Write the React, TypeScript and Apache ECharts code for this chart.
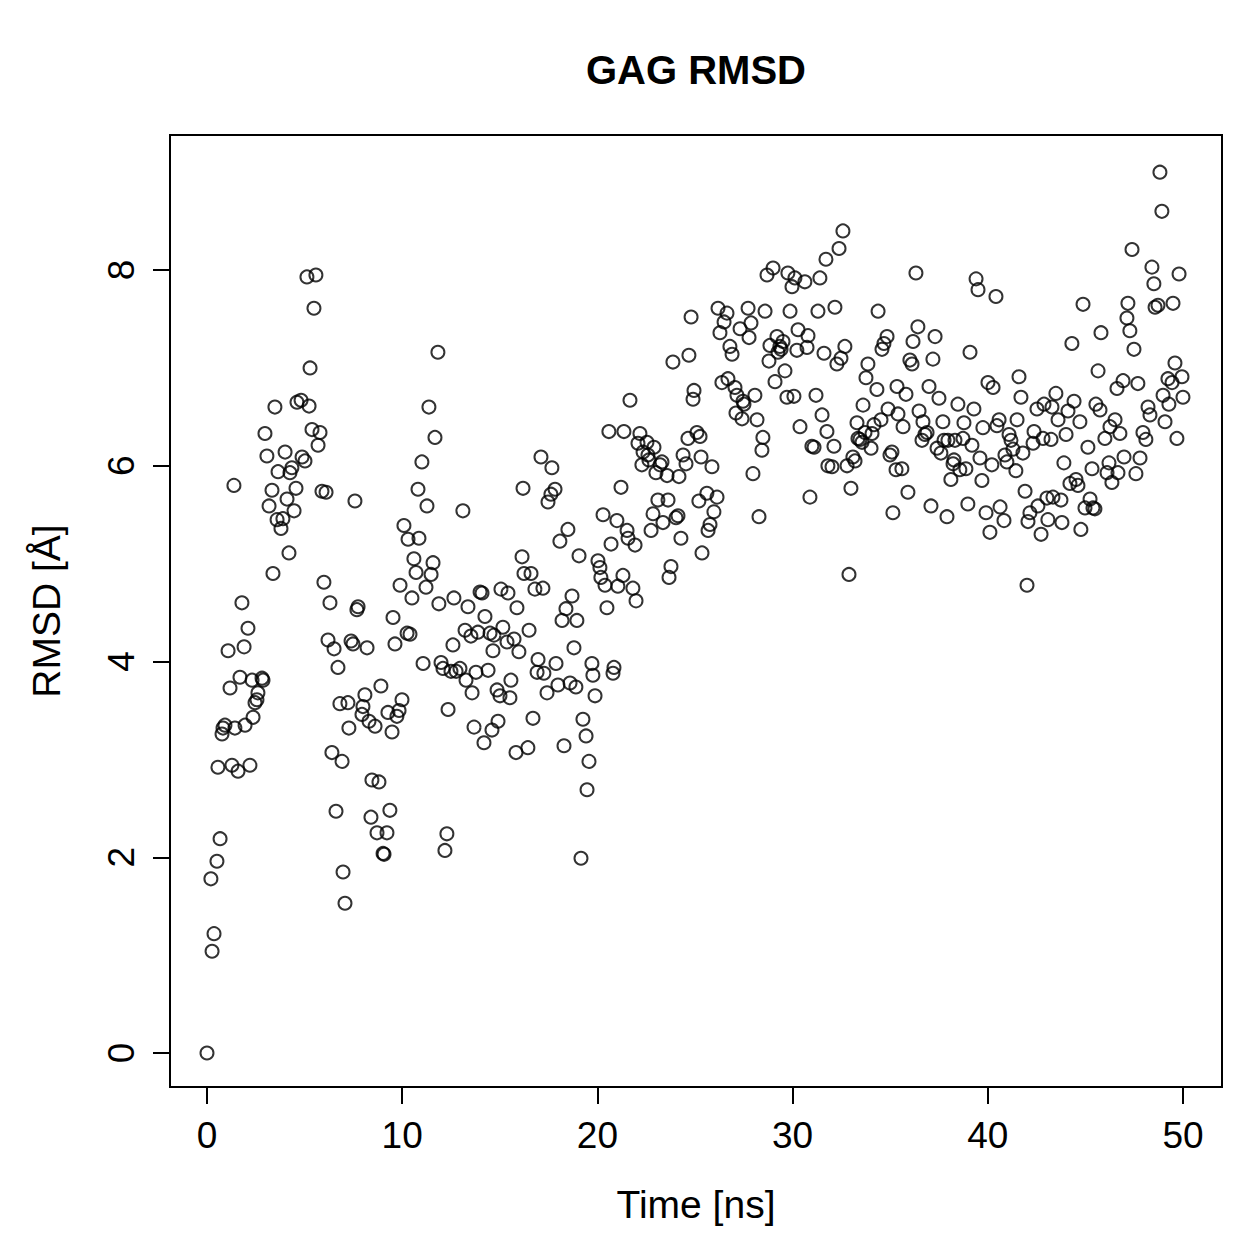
import { useEffect, useRef } from "react";
import * as echarts from "echarts";

// Simulation time (ns) and RMSD (Å) of the GAG ligand
const timeNs = [
  0.0, 0.2, 0.26, 0.36, 0.51, 0.56, 0.67, 0.77, 0.82, 0.92, 1.08, 1.18, 1.28, 1.38, 1.43, 1.59, 1.69, 1.79, 1.9, 1.95,
  2.1, 2.2, 2.31, 2.36, 2.46, 2.56, 2.61, 2.82, 2.87, 2.97, 3.07, 3.18, 3.33, 3.38, 3.48, 3.59, 3.64, 3.79, 3.89, 4.0,
  4.1, 4.2, 4.25, 4.35, 4.46, 4.56, 4.61, 4.82, 4.87, 5.02, 5.12, 5.23, 5.28, 5.38, 5.48, 5.58, 5.69, 5.79, 5.89, 5.99,
  6.1, 6.2, 6.3, 6.4, 6.51, 6.61, 6.71, 6.81, 6.92, 6.97, 7.07, 7.22, 7.27, 7.38, 7.48, 7.58, 7.68, 7.74, 7.94, 7.99,
  8.09, 8.2, 8.3, 8.4, 8.45, 8.61, 8.71, 8.81, 8.91, 9.02, 9.07, 9.22, 9.27, 9.37, 9.48, 9.53, 9.63, 9.73, 9.84, 9.89,
  9.99, 10.09, 10.25, 10.3, 10.4, 10.5, 10.6, 10.71, 10.81, 10.86, 11.01, 11.07, 11.22, 11.27, 11.37, 11.48, 11.58, 11.68, 11.83, 11.88,
  11.99, 12.09, 12.19, 12.29, 12.35, 12.5, 12.6, 12.65, 12.76, 12.96, 13.11, 13.22, 13.27, 13.37, 13.52, 13.58, 13.68, 13.78, 13.88, 13.99,
  14.09, 14.19, 14.24, 14.4, 14.5, 14.6, 14.65, 14.7, 14.86, 14.91, 15.01, 15.06, 15.16, 15.37, 15.42, 15.52, 15.57, 15.73, 15.83, 15.88,
  15.98, 16.14, 16.19, 16.24, 16.44, 16.5, 16.6, 16.7, 16.8, 16.91, 16.96, 17.11, 17.21, 17.26, 17.42, 17.47, 17.62, 17.67, 17.83, 17.88,
  17.98, 18.08, 18.19, 18.29, 18.39, 18.49, 18.6, 18.7, 18.8, 18.9, 18.95, 19.06, 19.16, 19.26, 19.42, 19.47, 19.57, 19.72, 19.77, 19.88,
  20.03, 20.13, 20.18, 20.29, 20.39, 20.49, 20.59, 20.7, 20.8, 20.85, 21.0, 21.05, 21.21, 21.31, 21.36, 21.52, 21.57, 21.67, 21.82, 21.93,
  21.98, 22.08, 22.18, 22.28, 22.34, 22.54, 22.59, 22.64, 22.75, 22.85, 22.9, 23.0, 23.1, 23.21, 23.31, 23.36, 23.57, 23.62, 23.67, 23.77,
  23.87, 24.03, 24.13, 24.18, 24.28, 24.39, 24.54, 24.64, 24.69, 24.8, 24.9, 24.95, 25.1, 25.2, 25.26, 25.31, 25.36, 25.61, 25.67, 25.77,
  25.87, 25.97, 26.13, 26.18, 26.28, 26.38, 26.49, 26.64, 26.69, 26.79, 26.9, 27.05, 27.1, 27.15, 27.31, 27.41, 27.46, 27.51, 27.72, 27.77,
  27.87, 27.97, 28.07, 28.18, 28.28, 28.43, 28.48, 28.59, 28.69, 28.79, 28.84, 29.0, 29.1, 29.2, 29.25, 29.35, 29.41, 29.51, 29.61, 29.71,
  29.76, 29.87, 29.97, 30.07, 30.12, 30.22, 30.28, 30.38, 30.63, 30.74, 30.79, 30.89, 30.99, 31.1, 31.2, 31.3, 31.4, 31.51, 31.61, 31.71,
  31.76, 31.81, 32.02, 32.12, 32.17, 32.27, 32.38, 32.48, 32.58, 32.68, 32.79, 32.89, 32.99, 33.09, 33.2, 33.3, 33.35, 33.45, 33.56, 33.61,
  33.71, 33.76, 33.86, 34.02, 34.07, 34.17, 34.32, 34.38, 34.53, 34.58, 34.68, 34.84, 34.89, 34.99, 35.09, 35.14, 35.3, 35.35, 35.4, 35.6,
  35.66, 35.81, 35.91, 36.01, 36.12, 36.17, 36.32, 36.42, 36.48, 36.63, 36.68, 36.78, 36.89, 36.99, 37.09, 37.19, 37.3, 37.4, 37.5, 37.6,
  37.7, 37.76, 37.91, 37.96, 38.11, 38.22, 38.27, 38.32, 38.47, 38.57, 38.73, 38.78, 38.88, 38.98, 39.09, 39.19, 39.29, 39.4, 39.5, 39.6,
  39.7, 39.75, 39.91, 40.01, 40.11, 40.21, 40.27, 40.42, 40.47, 40.58, 40.63, 40.83, 40.88, 40.98, 41.09, 41.19, 41.29, 41.44, 41.5, 41.6,
  41.7, 41.8, 41.91, 42.01, 42.06, 42.16, 42.32, 42.37, 42.52, 42.57, 42.73, 42.83, 42.88, 43.03, 43.08, 43.24, 43.29, 43.34, 43.49, 43.6,
  43.75, 43.8, 43.9, 44.01, 44.11, 44.21, 44.31, 44.42, 44.52, 44.62, 44.72, 44.77, 44.88, 44.98, 45.13, 45.24, 45.34, 45.39, 45.49, 45.54,
  45.65, 45.75, 45.8, 46.0, 46.11, 46.21, 46.26, 46.36, 46.52, 46.62, 46.67, 46.77, 46.93, 46.98, 47.13, 47.18, 47.28, 47.39, 47.49, 47.59,
  47.69, 47.8, 47.95, 48.1, 48.21, 48.31, 48.41, 48.51, 48.57, 48.72, 48.82, 48.92, 48.98, 49.08, 49.23, 49.28, 49.44, 49.49, 49.59, 49.69,
  49.8, 49.95, 50.0,
];

const rmsd = [
  0.0, 1.78, 1.04, 1.22, 1.96, 2.92, 2.19, 3.26, 3.32, 3.35, 4.11, 3.73, 2.94, 5.8, 3.32, 2.88, 3.84, 4.6, 4.15, 3.35,
  4.34, 2.94, 3.81, 3.43, 3.58, 3.61, 3.68, 3.83, 3.81, 6.33, 6.1, 5.59, 5.75, 4.9, 6.6, 5.45, 5.94, 5.36, 5.46, 6.14,
  5.66, 5.11, 5.93, 5.98, 5.54, 5.77, 6.65, 6.67, 6.09, 6.05, 7.93, 6.61, 7.0, 6.37, 7.61, 7.95, 6.21, 6.34, 5.74, 4.81,
  5.73, 4.22, 4.6, 3.07, 4.13, 2.47, 3.94, 3.57, 2.98, 1.85, 1.53, 3.58, 3.32, 4.21, 4.18, 5.64, 4.53, 4.56, 3.46, 3.54,
  3.66, 4.14, 3.39, 2.41, 2.79, 3.34, 2.25, 2.77, 3.75, 2.04, 2.03, 2.25, 3.48, 2.48, 3.28, 4.45, 4.18, 3.44, 3.5, 4.78,
  3.61, 5.39, 4.29, 5.25, 4.28, 4.65, 5.05, 4.91, 5.76, 5.26, 6.04, 3.98, 4.76, 5.59, 6.6, 4.89, 5.01, 6.29, 7.16, 4.59,
  3.99, 3.93, 2.07, 2.24, 3.51, 3.9, 4.17, 4.65, 3.9, 3.93, 5.54, 4.32, 3.81, 4.56, 4.26, 3.68, 3.33, 3.89, 4.3, 4.71,
  4.7, 3.17, 4.46, 3.91, 4.29, 3.3, 4.11, 4.27, 3.71, 3.39, 3.65, 4.74, 4.35, 4.2, 4.7, 3.63, 3.81, 4.23, 3.07, 4.55,
  4.1, 5.07, 5.77, 4.9, 3.12, 4.32, 4.9, 3.42, 4.74, 3.89, 4.02, 6.09, 4.75, 3.88, 3.68, 5.63, 5.71, 5.98, 5.76, 3.98,
  3.76, 5.23, 4.42, 3.14, 4.54, 5.35, 3.78, 4.67, 4.14, 3.74, 4.42, 5.08, 1.99, 3.41, 3.24, 2.69, 2.98, 3.98, 3.86, 3.65,
  5.03, 4.96, 4.86, 5.5, 4.78, 4.55, 6.35, 5.2, 3.88, 3.94, 5.44, 4.77, 5.78, 4.88, 6.35, 5.34, 5.26, 6.67, 4.75, 5.19,
  4.62, 6.23, 6.33, 6.01, 6.14, 6.24, 6.11, 6.06, 5.34, 5.51, 6.19, 5.93, 5.65, 6.01, 6.04, 5.42, 5.9, 5.65, 4.86, 4.97,
  7.06, 5.47, 5.49, 5.89, 5.26, 6.11, 6.02, 6.28, 7.13, 7.52, 6.68, 6.77, 6.34, 5.64, 6.3, 6.09, 5.11, 5.72, 5.34, 5.4,
  5.99, 5.53, 5.68, 7.61, 7.36, 6.85, 7.47, 7.56, 6.89, 7.22, 7.14, 6.8, 6.54, 6.72, 7.4, 6.48, 6.66, 6.63, 7.61, 7.31,
  7.46, 5.92, 6.72, 6.47, 5.48, 6.16, 6.29, 7.58, 7.95, 7.07, 7.23, 8.02, 6.86, 7.32, 7.16, 7.22, 7.19, 7.27, 6.97, 6.7,
  7.97, 7.58, 7.83, 6.71, 7.92, 7.18, 7.39, 6.4, 7.88, 7.21, 7.33, 5.68, 6.2, 6.19, 6.72, 7.58, 7.92, 6.52, 7.15, 8.11,
  6.35, 6.0, 5.99, 6.2, 7.62, 7.04, 8.22, 7.1, 8.4, 7.22, 6.0, 4.89, 5.77, 6.09, 6.05, 6.44, 6.28, 6.27, 6.24, 6.62,
  6.34, 6.9, 7.04, 6.18, 6.33, 6.42, 6.78, 7.58, 6.47, 7.19, 7.25, 7.32, 6.58, 6.11, 6.14, 5.52, 5.96, 6.81, 6.53, 5.97,
  6.4, 6.73, 5.73, 7.08, 7.04, 7.27, 7.97, 7.42, 6.56, 6.26, 6.45, 6.32, 6.34, 6.81, 5.59, 7.09, 7.32, 6.18, 6.69, 6.13,
  6.45, 6.26, 5.48, 6.26, 5.86, 6.02, 6.06, 6.26, 6.63, 5.96, 6.28, 6.44, 5.97, 5.61, 7.16, 6.21, 6.58, 7.91, 7.8, 6.08,
  5.85, 6.39, 5.52, 6.85, 5.32, 6.01, 6.8, 7.73, 6.41, 6.47, 5.58, 5.44, 6.11, 6.04, 6.32, 6.26, 6.17, 5.95, 6.47, 6.91,
  6.7, 6.13, 5.74, 4.78, 5.43, 5.52, 6.23, 6.35, 6.58, 5.59, 5.3, 6.28, 6.63, 5.67, 5.45, 6.27, 6.6, 5.68, 6.74, 6.47,
  5.65, 5.42, 6.03, 6.32, 6.56, 5.82, 7.25, 6.66, 5.86, 5.8, 6.45, 5.35, 7.65, 5.57, 6.19, 5.66, 5.97, 5.57, 5.56, 6.63,
  6.97, 6.57, 7.36, 6.28, 5.93, 6.03, 6.4, 5.83, 6.47, 6.79, 5.93, 6.33, 6.87, 6.09, 7.51, 7.66, 7.38, 8.21, 7.19, 5.92,
  6.84, 6.08, 6.34, 6.27, 6.6, 6.52, 8.03, 7.86, 7.62, 7.64, 9.0, 8.6, 6.72, 6.45, 6.89, 6.63, 6.85, 7.66, 7.05, 6.28,
  7.96, 6.91, 6.7,
];

const xTicks = [0, 10, 20, 30, 40, 50];
const yTicks = [0, 2, 4, 6, 8];

const FONT = "Liberation Sans";

export default function App() {
  const ref = useRef<HTMLDivElement>(null);

  useEffect(() => {
    if (!ref.current) return;
    const chart = echarts.init(ref.current, null, { renderer: "svg" });
    const points = timeNs.map((t, i) => [t, rmsd[i]]);

    chart.setOption({
      animation: false,
      backgroundColor: "#ffffff",
      title: {
        text: "GAG RMSD",
        left: 691,
        top: 45,
        textAlign: "center",
        textStyle: { fontFamily: FONT, fontWeight: "bold", fontSize: 40, color: "#000" },
      },
      grid: {
        left: 170,
        top: 135,
        width: 1052,
        height: 952,
        show: true,
        borderColor: "#000",
        borderWidth: 2,
        backgroundColor: "transparent",
      },
      xAxis: {
        type: "value",
        min: -1.895,
        max: 52.0,
        axisLine: { show: false, onZero: false },
        splitLine: { show: false },
        axisTick: {
          show: true,
          inside: false,
          length: 17,
          customValues: xTicks,
          lineStyle: { color: "#000", width: 2 },
        },
        axisLabel: {
          customValues: xTicks,
          color: "#000",
          fontFamily: FONT,
          fontSize: 37,
          margin: 30,
        },
        name: "Time [ns]",
        nameLocation: "middle",
        nameGap: 98,
        nameTextStyle: { color: "#000", fontFamily: FONT, fontSize: 39 },
      },
      yAxis: {
        type: "value",
        min: -0.347,
        max: 9.38,
        axisLine: { show: false, onZero: false },
        splitLine: { show: false },
        axisTick: {
          show: true,
          inside: false,
          length: 17,
          customValues: yTicks,
          lineStyle: { color: "#000", width: 2 },
        },
        axisLabel: {
          customValues: yTicks,
          rotate: 90,
          color: "#000",
          fontFamily: FONT,
          fontSize: 37,
          margin: 30,
        },
        name: "RMSD [Å]",
        nameLocation: "middle",
        nameRotate: 90,
        nameGap: 104,
        nameTextStyle: { color: "#000", fontFamily: FONT, fontSize: 39 },
      },
      series: [
        {
          type: "scatter",
          data: points,
          symbol: "circle",
          symbolSize: 13,
          silent: true,
          itemStyle: { color: "rgba(0,0,0,0)", borderColor: "#000", borderWidth: 2 },
          emphasis: { disabled: true },
        },
      ],
    });

    return () => chart.dispose();
  }, []);

  return (
    <div
      ref={ref}
      style={{ position: "absolute", left: 0, top: 0, width: 1259, height: 1259, background: "#fff" }}
    />
  );
}
